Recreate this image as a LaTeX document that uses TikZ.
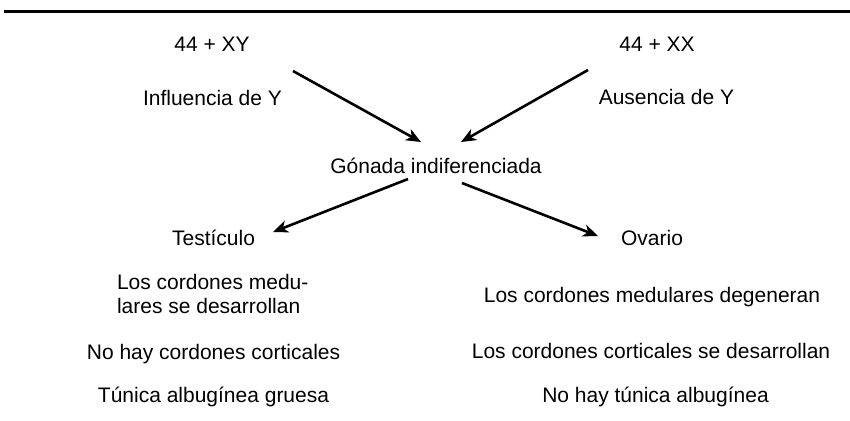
\documentclass[tikz,border=0pt]{standalone}
\usepackage{fontspec}
\setmainfont{Liberation Sans}
\usetikzlibrary{positioning,arrows.meta}
\tikzset{
  lbl/.style  ={inner sep=0pt, outer sep=0pt, anchor=base, font=\fontsize{10.5}{12}\selectfont},
  blk/.style  ={lbl, anchor=base west, align=left},
  arr/.style  ={-{Stealth[length=7.5pt, width=6.2pt, inset=2.2pt]}, line width=1.3pt},
  rule/.style ={line width=1.5pt},
}

\begin{document}
\begin{tikzpicture}[x=0.5pt, y=-0.5pt]
  \useasboundingbox (0,0) rectangle (850,420);
  \draw[rule] (4,11) -- (850,11);
  % parents
  \node[lbl] (xy)   at (212,51)  {44 + XY};
  \node[lbl] (infl) at (212.5,105) {Influencia de Y};
  \node[lbl] (xx)   at (657,51)  {44 + XX};
  \node[lbl] (aus)  at (666.5,104) {Ausencia de Y};
  \node[lbl] (gon)  at (436,173) {Gónada indiferenciada};
  % left
  \node[lbl] (tes)  at (213.5,245) {Testículo};
  \node[blk] (tmed) at (117,313) {Los cordones medu-\\lares se desarrollan};
  \node[lbl] (tcor) at (213.5,359) {No hay cordones corticales};
  \node[lbl] (ttun) at (213.5,402) {Túnica albugínea gruesa};
  % right
  \node[lbl] (ova)  at (652,245) {Ovario};
  \node[lbl] (omed) at (652,302) {Los cordones medulares degeneran};
  \node[lbl] (ocor) at (651,358) {Los cordones corticales se desarrollan};
  \node[lbl] (otun) at (655.5,402) {No hay túnica albugínea};
  % arrow ends
  \coordinate (xy-out)  at (293,71);
  \coordinate (xx-out)  at (588,70);
  \coordinate (gon-inl) at (421,142);
  \coordinate (gon-inr) at (461,142);
  \coordinate (gon-outl) at (408,179);
  \coordinate (gon-outr) at (462,183);
  \coordinate (tes-in)  at (273,232);
  \coordinate (ova-in)  at (598,236);
  \draw[arr] (xy-out) -- (gon-inl);
  \draw[arr] (xx-out) -- (gon-inr);
  \draw[arr] (gon-outl) -- (tes-in);
  \draw[arr] (gon-outr) -- (ova-in);
\end{tikzpicture}
\end{document}
